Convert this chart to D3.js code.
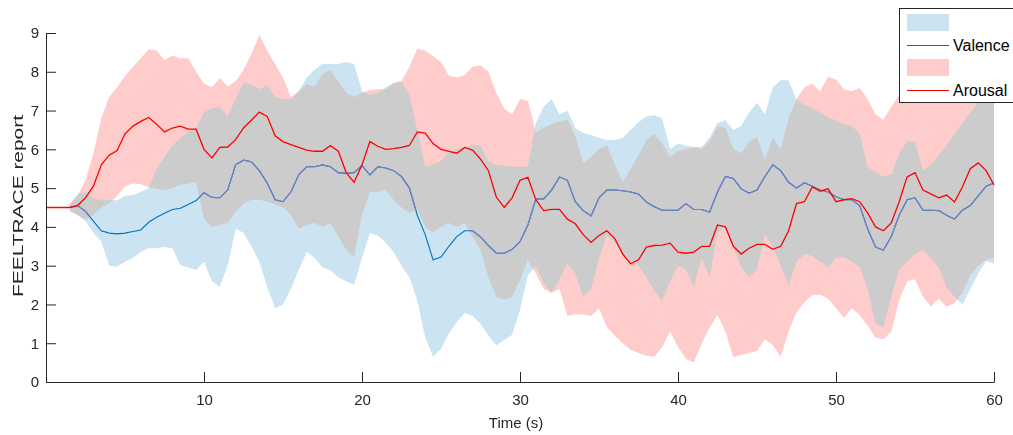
<!DOCTYPE html>
<html>
<head>
<meta charset="utf-8">
<script src="https://cdn.jsdelivr.net/npm/d3@7"></script>
<style>
  body { margin: 0; background: #fff; }
  svg { display: block; font-family: "Liberation Sans", Arial, sans-serif; }
</style>
</head>
<body>
<div id="chart"></div>
<script>
// sample times (s), every half second
var time = [0,0.5,1,1.5,2,2.5,3,3.5,4,4.5,
  5,5.5,6,6.5,7,7.5,8,8.5,9,9.5,
  10,10.5,11,11.5,12,12.5,13,13.5,14,14.5,
  15,15.5,16,16.5,17,17.5,18,18.5,19,19.5,
  20,20.5,21,21.5,22,22.5,23,23.5,24,24.5,
  25,25.5,26,26.5,27,27.5,28,28.5,29,29.5,
  30,30.5,31,31.5,32,32.5,33,33.5,34,34.5,
  35,35.5,36,36.5,37,37.5,38,38.5,39,39.5,
  40,40.5,41,41.5,42,42.5,43,43.5,44,44.5,
  45,45.5,46,46.5,47,47.5,48,48.5,49,49.5,
  50,50.5,51,51.5,52,52.5,53,53.5,54,54.5,
  55,55.5,56,56.5,57,57.5,58,58.5,59,59.5,
  60];

var valenceMean = [4.5,4.5,4.5,4.5,4.55,4.4,4.15,3.9,3.84,3.82,
  3.84,3.88,3.92,4.12,4.25,4.35,4.45,4.48,4.58,4.68,
  4.88,4.76,4.75,4.95,5.6,5.72,5.68,5.45,5.13,4.7,
  4.65,4.9,5.35,5.55,5.55,5.6,5.55,5.4,5.38,5.4,
  5.58,5.34,5.55,5.52,5.45,5.3,5.0,4.3,3.8,3.15,
  3.22,3.5,3.75,3.9,3.9,3.74,3.52,3.32,3.32,3.42,
  3.62,4.05,4.72,4.72,4.95,5.29,5.2,4.65,4.42,4.28,
  4.75,4.95,4.95,4.93,4.9,4.85,4.64,4.52,4.43,4.43,
  4.43,4.6,4.45,4.45,4.38,4.9,5.3,5.25,4.98,4.87,
  4.95,5.3,5.6,5.45,5.15,5.0,5.14,5.05,4.95,4.9,
  4.78,4.7,4.7,4.55,3.95,3.48,3.4,3.75,4.3,4.7,
  4.75,4.43,4.43,4.42,4.3,4.2,4.43,4.55,4.8,5.05,
  5.13];

var valenceHigh = [null,null,null,4.55,4.85,4.9,4.72,4.7,4.7,4.68,
  4.8,4.82,4.9,5.0,5.5,5.8,6.1,6.3,6.45,6.55,
  6.95,7.05,7.1,6.85,7.3,7.72,7.68,7.55,7.65,7.35,
  7.3,7.3,7.5,7.85,8.05,8.2,8.2,8.2,8.25,8.2,
  7.5,7.4,7.45,7.6,7.7,7.74,7.4,6.5,5.55,5.6,
  5.7,5.92,6.0,6.06,6.12,6.1,5.7,5.6,5.58,5.56,
  5.55,5.55,6.68,7.1,7.3,6.9,7.0,6.55,6.42,6.37,
  6.3,6.24,6.24,6.3,6.5,6.7,6.85,6.88,6.8,6.0,
  6.15,6.1,6.06,6.06,6.3,6.68,6.75,6.5,6.6,6.95,
  7.2,6.9,7.6,7.78,7.78,7.27,7.15,7.05,6.95,6.83,
  6.75,6.65,6.6,6.4,5.55,5.4,5.3,5.35,5.9,6.2,
  6.2,5.47,5.6,5.85,6.1,6.4,6.68,6.95,7.2,7.5,
  7.7];

var valenceLow = [null,null,null,4.45,4.3,4.15,3.85,3.62,3.0,2.97,
  3.1,3.2,3.35,3.45,3.45,3.48,3.45,3.02,2.95,2.89,
  3.1,2.6,2.45,3.0,3.95,3.85,3.5,3.1,2.45,1.9,
  2.0,2.4,2.9,3.35,3.2,2.95,2.88,2.7,2.6,2.5,
  3.2,3.84,3.78,3.6,3.35,3.0,2.7,2.1,1.15,0.65,
  0.85,1.25,1.55,1.78,1.7,1.5,1.2,0.95,1.08,1.22,
  1.86,2.75,3.0,2.55,2.3,2.65,3.05,2.8,2.2,2.4,
  3.2,3.78,3.6,3.32,3.15,3.0,2.7,2.35,2.1,2.6,
  3.0,2.9,2.45,3.2,2.7,3.84,4.0,3.5,2.95,2.7,
  2.9,3.8,3.5,3.0,2.5,3.1,3.3,3.25,3.1,2.95,
  3.2,3.22,3.1,2.97,2.4,1.5,1.4,2.2,2.9,3.1,
  3.3,3.4,3.2,2.95,2.45,2.2,2.0,2.4,2.8,3.12,
  3.05];

var arousalMean = [4.5,4.5,4.5,4.5,4.55,4.75,5.05,5.6,5.85,5.97,
  6.4,6.6,6.72,6.82,6.65,6.45,6.55,6.6,6.52,6.52,
  6.0,5.78,6.05,6.06,6.25,6.55,6.75,6.96,6.85,6.35,
  6.2,6.12,6.05,5.98,5.95,5.95,6.1,5.95,5.4,5.15,
  5.6,6.2,6.08,6.0,6.02,6.05,6.1,6.45,6.42,6.15,
  6.0,5.95,5.9,6.05,5.98,5.75,5.45,4.77,4.5,4.75,
  5.2,5.28,4.7,4.42,4.45,4.45,4.2,4.08,3.8,3.6,
  3.78,3.9,3.7,3.3,3.05,3.15,3.48,3.52,3.53,3.58,
  3.35,3.32,3.35,3.5,3.5,4.05,4.0,3.5,3.3,3.45,
  3.55,3.55,3.42,3.5,3.9,4.6,4.65,5.03,4.92,4.98,
  4.65,4.7,4.73,4.65,4.36,4.0,3.9,4.1,4.65,5.29,
  5.4,4.95,4.85,4.75,4.82,4.64,5.03,5.5,5.65,5.45,
  5.08];

var arousalHigh = [null,null,null,4.6,4.8,5.2,5.9,6.8,7.35,7.6,
  7.9,8.13,8.35,8.58,8.55,8.3,8.42,8.35,8.35,8.0,
  7.7,7.6,7.84,7.62,7.75,8.05,8.45,8.95,8.55,8.2,
  7.85,7.35,7.5,7.68,7.62,7.95,8.05,7.75,7.45,7.35,
  7.45,7.53,7.55,7.55,7.72,7.76,8.13,8.6,8.55,8.4,
  8.25,7.9,7.85,7.92,8.13,8.17,8.0,7.45,7.05,6.9,
  7.3,7.25,6.45,6.55,6.65,6.72,6.76,6.35,5.65,5.8,
  6.0,6.1,5.6,5.15,5.5,5.85,6.24,6.4,6.15,5.8,
  5.95,6.0,6.06,6.0,6.2,6.6,6.55,6.0,5.9,6.2,
  6.32,5.72,6.3,6.0,6.8,7.3,7.6,7.7,7.5,7.87,
  7.8,7.55,7.5,7.58,7.3,6.9,6.76,7.1,7.4,7.4,
  7.4,7.4,7.4,7.4,7.4,7.4,7.4,7.4,7.4,7.6,
  7.9];

var arousalLow = [null,null,null,4.4,4.3,4.2,4.3,4.5,4.6,4.8,
  5.05,5.12,5.1,5.02,4.98,4.95,5.0,5.08,5.12,5.15,
  4.2,4.0,4.05,4.1,4.4,4.6,4.7,4.7,4.65,4.58,
  4.5,4.3,3.95,4.05,4.1,4.0,4.1,3.75,3.4,3.22,
  4.3,4.9,4.9,4.95,4.7,4.5,4.36,4.45,4.0,3.85,
  4.0,4.1,4.0,4.1,3.75,3.4,2.7,2.2,2.12,2.2,
  2.63,3.15,2.8,2.4,2.3,2.4,1.7,1.75,1.75,1.7,
  1.9,1.42,1.2,1.0,0.83,0.75,0.68,0.65,0.9,1.3,
  0.9,0.6,0.5,1.0,1.4,1.73,1.3,0.64,0.7,0.75,
  0.8,1.1,0.95,0.65,1.3,1.8,2.05,2.25,2.25,2.15,
  1.9,1.65,1.9,1.72,1.45,1.15,1.1,1.3,2.11,2.6,
  2.65,2.2,1.95,2.15,1.94,2.03,2.3,2.75,3.0,3.15,
  3.2];

var xTicks = [10, 20, 30, 40, 50, 60];
var yTicks = [0, 1, 2, 3, 4, 5, 6, 7, 8, 9];
var seriesNames = ["Valence", "Arousal"];

function init(){
	var w = 1013;
	var h = 435;
	var axisColor = "#262626";

	var xScale = d3.scaleLinear()
					.domain([0, 60])
					.range([46, 994]);

	var yScale = d3.scaleLinear()
					.domain([0, 9])
					.range([382, 33]);

	var svg = d3.select("#chart")
				.append("svg")
				.attr("width", w)
				.attr("height", h);

	var rows = time.map(function(t, i){
		return {t: t, vm: valenceMean[i], vh: valenceHigh[i], vl: valenceLow[i],
				am: arousalMean[i], ah: arousalHigh[i], al: arousalLow[i]};
	});

	var valArea = d3.area()
		.defined(function(d){ return d.vl != null; })
		.x(function(d){ return xScale(d.t); })
		.y0(function(d){ return yScale(d.vl); })
		.y1(function(d){ return yScale(d.vh); });

	var aroArea = d3.area()
		.defined(function(d){ return d.al != null; })
		.x(function(d){ return xScale(d.t); })
		.y0(function(d){ return yScale(d.al); })
		.y1(function(d){ return yScale(d.ah); });

	var valLine = d3.line()
		.x(function(d){ return xScale(d.t); })
		.y(function(d){ return yScale(d.vm); });

	var aroLine = d3.line()
		.x(function(d){ return xScale(d.t); })
		.y(function(d){ return yScale(d.am); });

	svg.append("clipPath")
		.attr("id", "aroClip")
		.append("path")
		.attr("d", aroArea(rows));

	var plot = svg.append("g");

	plot.append("path")
		.attr("d", valArea(rows))
		.attr("fill", "#cce3f2");

	// overlap turns grey
	plot.append("path")
		.attr("d", aroArea(rows))
		.attr("fill", "#ffcccc")
		.style("mix-blend-mode", "darken");

	plot.append("path")
		.attr("d", valLine(rows))
		.attr("fill", "none")
		.attr("stroke", "#0072bd")
		.attr("stroke-width", 1.1);

	// valence line looks washed out where it sits inside the arousal band
	plot.append("path")
		.attr("d", valLine(rows))
		.attr("clip-path", "url(#aroClip)")
		.attr("fill", "none")
		.attr("stroke", "#7680c8")
		.attr("stroke-width", 1.1);

	plot.append("path")
		.attr("d", aroLine(rows))
		.attr("fill", "none")
		.attr("stroke", "#ff0000")
		.attr("stroke-width", 1.3);

	// axes, matlab style: inward ticks, no box
	var xAxis = d3.axisBottom(xScale)
		.tickValues(xTicks)
		.tickSize(-10)
		.tickSizeOuter(0)
		.tickPadding(12);

	var yAxis = d3.axisLeft(yScale)
		.tickValues(yTicks)
		.tickSize(-10)
		.tickSizeOuter(0)
		.tickPadding(7);

	var gx = svg.append("g")
		.attr("transform", "translate(0,382)")
		.call(xAxis);

	var gy = svg.append("g")
		.attr("transform", "translate(46,0)")
		.call(yAxis);

	[gx, gy].forEach(function(g){
		g.selectAll("path, line").attr("stroke", axisColor);
		g.selectAll("text")
			.attr("fill", axisColor)
			.attr("font-size", "15px")
			.attr("font-family", "Liberation Sans, Arial, sans-serif");
	});

	svg.append("text")
		.attr("x", 516)
		.attr("y", 428)
		.attr("text-anchor", "middle")
		.attr("font-size", "15px")
		.attr("fill", axisColor)
		.text("Time (s)");

	svg.append("text")
		.attr("transform", "translate(23,206) rotate(-90)")
		.attr("text-anchor", "middle")
		.attr("font-size", "15px")
		.attr("textLength", 182)
		.attr("lengthAdjust", "spacingAndGlyphs")
		.attr("fill", axisColor)
		.text("FEELTRACE report");

	// legend
	var lg = svg.append("g");
	lg.append("rect")
		.attr("x", 899.5).attr("y", 8.5)
		.attr("width", 140).attr("height", 94)
		.attr("fill", "#fff")
		.attr("stroke", axisColor);

	var patchColors = ["#cce3f2", "#ffcccc"];
	var lineColors = ["#0072bd", "#ff0000"];
	seriesNames.forEach(function(name, i){
		var top = 14 + i * 45;
		lg.append("rect")
			.attr("x", 907).attr("y", top)
			.attr("width", 42).attr("height", 17)
			.attr("fill", patchColors[i]);
		lg.append("line")
			.attr("x1", 907).attr("x2", 949)
			.attr("y1", top + 31.5).attr("y2", top + 31.5)
			.attr("stroke", lineColors[i])
			.attr("stroke-width", 1);
		lg.append("text")
			.attr("x", 953)
			.attr("y", top + 37)
			.attr("font-size", "16px")
			.attr("fill", "#000")
			.text(name);
	});
}

window.onload = init;
</script>
</body>
</html>
